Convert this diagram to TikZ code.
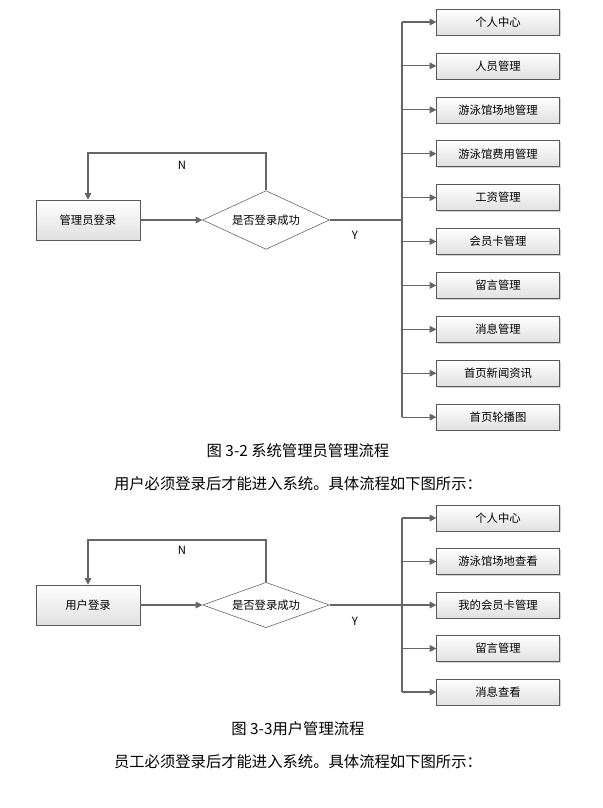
\documentclass[tikz,border=0pt]{standalone}
\usepackage{fontspec}
\setmainfont{Noto Sans CJK SC}
\usetikzlibrary{shapes.geometric, arrows.meta, shadows}
\begin{document}
\begin{tikzpicture}[x=0.75pt, y=-0.75pt, font=\fontsize{8.5}{10}\selectfont,
    line/.style={draw=black!60, line width=0.8pt},
    arr/.style={line, -{Triangle[length=5pt, width=5pt]}},
    item/.style={draw=black!65, top color=white, bottom color=black!12, minimum width=92pt, minimum height=19.5pt, drop shadow={opacity=0.35, shadow xshift=1pt, shadow yshift=-1pt}},
    login/.style={item, minimum width=78pt, minimum height=30pt},
    check/.style={diamond, draw=black!65, fill=white, aspect=2.9, minimum width=95pt, minimum height=44pt, inner sep=0pt},
    caption/.style={font=\fontsize{11.5}{13}\selectfont}]

\useasboundingbox (0,0) rectangle (603,808);

% system administrator
\node[login] at (88, 220) (al) {管理员登录};
\node[check] at (266, 220) (ac) {是否登录成功};
\coordinate (ab) at (402, 220);
\foreach \t [count=\i] in {个人中心, 人员管理, 游泳馆场地管理, 游泳馆费用管理, 工资管理, 会员卡管理, 留言管理, 消息管理, 首页新闻资讯, 首页轮播图} {
    \node[item] at (498, {22 + (\i-1)*43.9}) (a\i) {\t};
    \draw[arr] (402, {22 + (\i-1)*43.9}) -- (a\i.west);
}
\draw[line] (402, 22) -- (402, 417);
\draw[arr] (al) -- (ac);
\draw[line] (ac.east) -- (ab);
\draw[arr] (ac.north) |- (88, 153) -- (al.north);
\node at (182, 165) {N};
\node at (355, 235) {Y};
\node[caption] at (298, 451) (acap) {图 3-2 系统管理员管理流程};
\node[caption] at (298, 484) (atxt) {用户必须登录后才能进入系统。具体流程如下图所示：};

% user
\node[login] at (88, 605) (ul) {用户登录};
\node[check, minimum height=34pt] at (266, 605) (uc) {是否登录成功};
\coordinate (ub) at (402, 605);
\foreach \t [count=\i] in {个人中心, 游泳馆场地查看, 我的会员卡管理, 留言管理, 消息查看} {
    \node[item] at (498, {518 + (\i-1)*43.5}) (u\i) {\t};
    \draw[arr] (402, {518 + (\i-1)*43.5}) -- (u\i.west);
}
\draw[line] (402, 518) -- (402, 692);
\draw[arr] (ul) -- (uc);
\draw[line] (uc.east) -- (ub);
\draw[arr] (uc.north) |- (88, 540) -- (ul.north);
\node at (182, 550) {N};
\node at (355, 621) {Y};
\node[caption] at (298, 729) (ucap) {图 3-3用户管理流程};
\node[caption] at (298, 762) (utxt) {员工必须登录后才能进入系统。具体流程如下图所示：};

\end{tikzpicture}
\end{document}
